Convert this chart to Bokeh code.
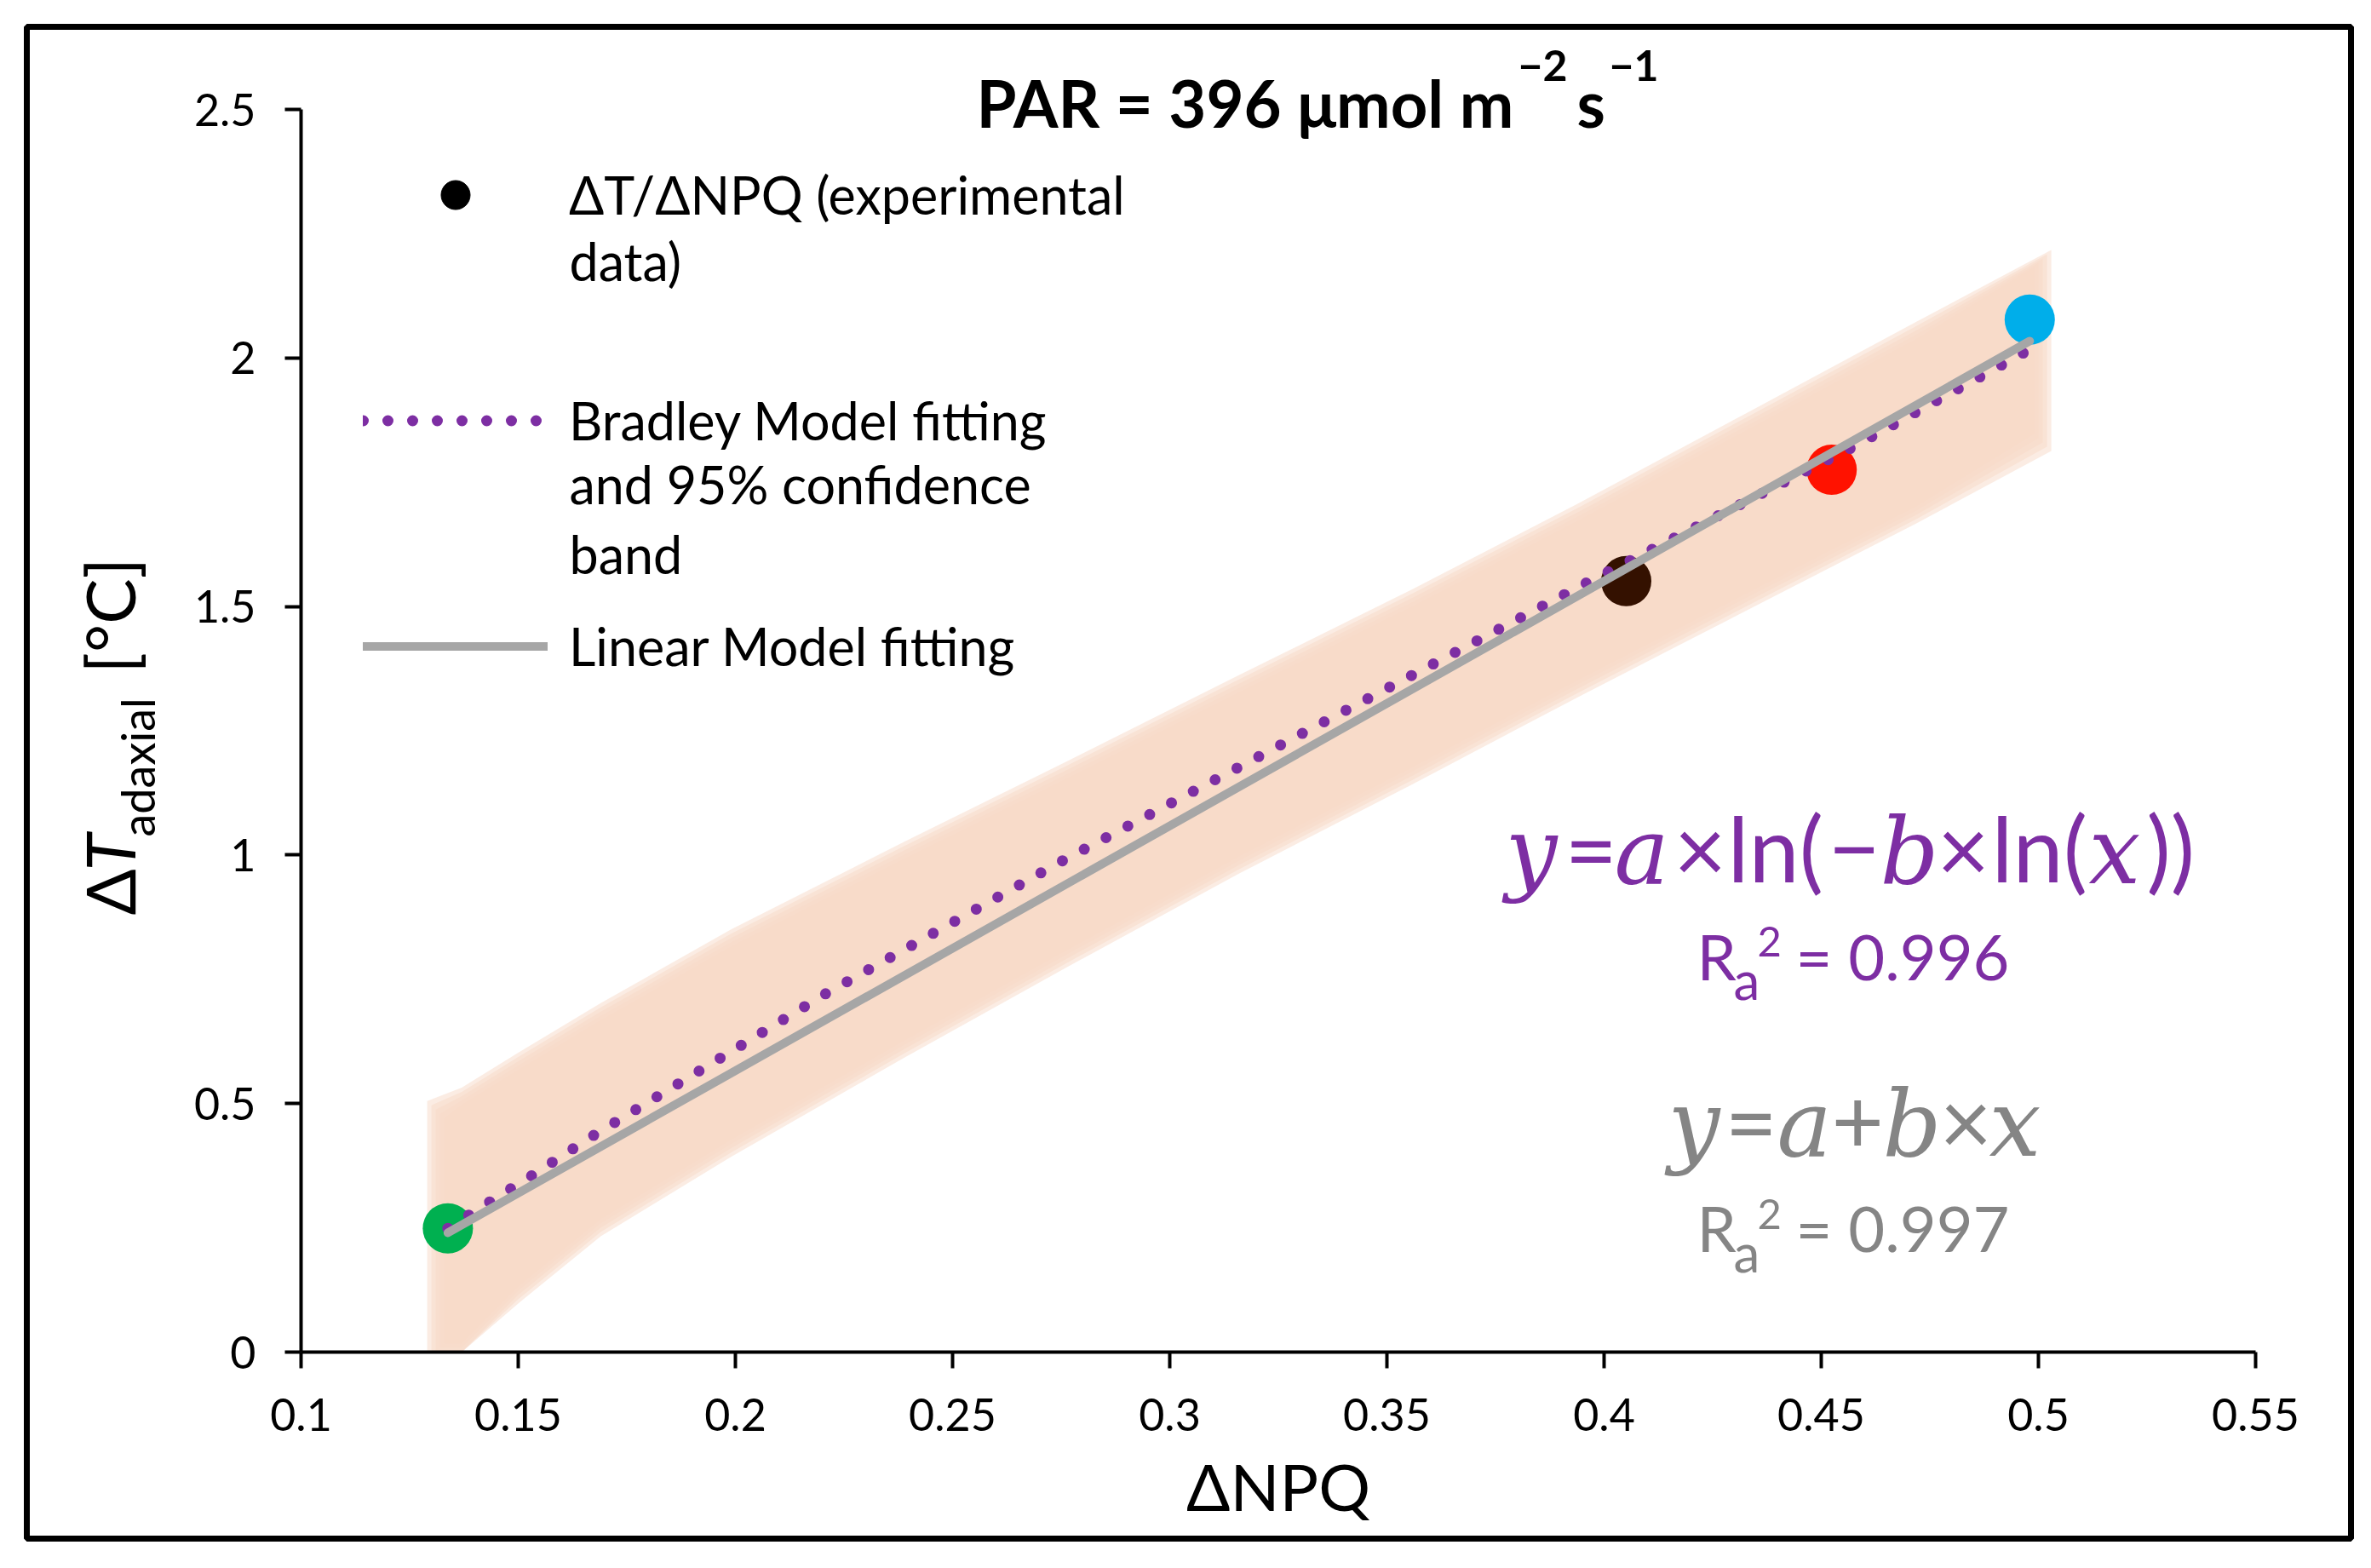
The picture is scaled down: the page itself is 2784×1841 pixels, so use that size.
import math
import numpy as np
from bokeh.plotting import figure
from bokeh.models import Range1d, FixedTicker, Label, Legend, LegendItem, NumeralTickFormatter, BoxAnnotation
from bokeh.embed import file_html
from bokeh.resources import INLINE

# values
npq = [0.1338, 0.4051, 0.4524, 0.498]
delta_t = [0.249, 1.551, 1.775, 2.077]
point_colors = ["#00B050", "#341100", "#FF1200", "#00AEEA"]

linear_x = [0.1338, 0.498]
linear_y = [0.240, 2.034]

bradley_x = [0.1338, 0.143, 0.1526, 0.167, 0.2206, 0.275, 0.3459, 0.3969, 0.4578, 0.4776, 0.498]
bradley_y = [0.249, 0.300, 0.352, 0.434, 0.720, 0.987, 1.316, 1.552, 1.823, 1.919, 2.017]

band_x = [0.131, 0.137, 0.150, 0.169, 0.199, 0.239, 0.276, 0.316, 0.356, 0.394, 0.433, 0.472, 0.501]
band_lo = [0.0, 0.0, 0.115, 0.25, 0.41, 0.61, 0.79, 0.98, 1.16, 1.335, 1.51, 1.685, 1.83]
band_hi = [0.488, 0.515, 0.585, 0.685, 0.833, 1.01, 1.17, 1.345, 1.518, 1.69, 1.873, 2.056, 2.20]

x_ticks = [0.1, 0.15, 0.2, 0.25, 0.3, 0.35, 0.4, 0.45, 0.5, 0.55]
x_tick_labels = ["0.1", "0.15", "0.2", "0.25", "0.3", "0.35", "0.4", "0.45", "0.5", "0.55"]
y_ticks = [0, 0.5, 1, 1.5, 2, 2.5]
y_tick_labels = ["0", "0.5", "1", "1.5", "2", "2.5"]

PURPLE = "#7D2EA3"
GREY_LINE = "#A6A6A6"
GREY_TEXT = "#858585"
SANS = "Lato, 'Open Sans', sans-serif"
SERIF = "'DejaVu Serif', 'Liberation Serif', serif"

W, H = 2768, 1825
OX, OY = 0, 0   # where the canvas lands on the page


# page pixel -> data (axes: x 0.1..0.55 on 353..2648, y 0..2.5 on 1587..128)
def to_x(px):
    return 0.1 + (px - 353) / 5100.0


def to_y(py):
    return (1587 - py) / 583.6


p = figure(width=W, height=H, x_range=Range1d(to_x(OX), to_x(OX + W)),
           y_range=Range1d(to_y(OY + H), to_y(OY)),
           output_backend="svg", toolbar_location=None,
           min_border_left=0, min_border_right=0, min_border_top=0, min_border_bottom=0)
p.title.visible = False
p.outline_line_color = None
p.grid.visible = False
p.background_fill_color = "white"
p.border_fill_color = "white"

p.xaxis.fixed_location = 0
p.yaxis.fixed_location = 0.1
p.xaxis.bounds = (0.1, 0.55)
p.yaxis.bounds = (0, 2.5)

for ax, ticks, labels in ((p.xaxis, x_ticks, x_tick_labels), (p.yaxis, y_ticks, y_tick_labels)):
    ax.ticker = FixedTicker(ticks=ticks)
    ax.formatter = NumeralTickFormatter(format="0.[00]")
    ax.major_label_overrides = {t: l for t, l in zip(ticks, labels)}
    ax.axis_line_width = 4
    ax.axis_line_color = "black"
    ax.major_tick_line_width = 4
    ax.major_tick_line_color = "black"
    ax.major_tick_out = 19
    ax.major_tick_in = 0
    ax.minor_tick_out = 0
    ax.minor_tick_in = 0
    ax.major_label_text_font = SANS
    ax.major_label_text_font_size = "52px"
    ax.major_label_text_color = "black"

p.xaxis.major_label_standoff = 35
p.yaxis.major_label_standoff = 34
p.xaxis.axis_label = "ΔNPQ"
p.xaxis.axis_label_text_font = SANS
p.xaxis.axis_label_text_font_size = "76px"
p.xaxis.axis_label_text_font_style = "normal"
p.xaxis.axis_label_text_color = "black"
p.xaxis.axis_label_standoff = 16

# outer frame of the figure
p.add_layout(BoxAnnotation(left=to_x(31), right=to_x(2760), top=to_y(31), bottom=to_y(1806),
                           fill_color=None, line_color="black", line_alpha=1.0, line_width=7))

# confidence band with soft edges
lo = np.array(band_lo)
hi = np.array(band_hi)
for k in (-2, -1, 0, 1, 2):
    s = 5.0 * k / 583.6
    xs = np.array(band_x)
    xs[0] -= 5.0 * k / 5100.0
    xs[-1] += 5.0 * k / 5100.0
    p.varea(x=xs, y1=np.maximum(lo - s, 0), y2=hi + s, fill_color="#F8DAC7", fill_alpha=0.5)

points = p.scatter(npq, delta_t, size=59, fill_color=point_colors, line_color=None)
bradley = p.line(bradley_x, bradley_y, line_color=PURPLE, line_width=13,
                 line_dash="0 29", line_cap="round")
linear = p.line(linear_x, linear_y, line_color=GREY_LINE, line_width=10, line_cap="round")

legend_dot = p.scatter(npq[:1], delta_t[:1], size=34, color="black", visible=False)

legend = Legend(items=[
    LegendItem(label="ΔT/ΔNPQ (experimental", renderers=[legend_dot]),
    LegendItem(label="Bradley Model fitting", renderers=[bradley]),
    LegendItem(label="Linear Model fitting", renderers=[linear]),
], location=(426 - OX, OY + H - 801), glyph_width=217, glyph_height=85, label_standoff=25,
    spacing=180, padding=0, margin=0, border_line_color=None, background_fill_alpha=0,
    label_text_font=SANS, label_text_font_size="61px", label_text_color="black")
p.add_layout(legend)


def add_text(px, base, text, size, color="black", font=SANS, style="normal", angle=0.0):
    # anchor on the middle of the text box; base is the wanted baseline
    mid = 0.387 if font == SANS else 0.346
    if angle:
        x, y = to_x(px - mid * size), to_y(base)
    else:
        x, y = to_x(px), to_y(base - mid * size)
    p.add_layout(Label(x=x, y=y, text=text, text_font=font,
                       text_font_size=f"{size}px", text_font_style=style, text_color=color,
                       text_align="left", text_baseline="middle", angle=angle))


# legend continuation lines
add_text(668, 330, "data)", 61)
add_text(668, 592, "and 95% confidence", 61)
add_text(668, 674, "band", 61)

# title
add_text(1146, 149, "PAR = 396 μmol m", 76, style="bold")
add_text(1782, 96, "−2", 50, style="bold")
add_text(1851, 149, "s", 76, style="bold")
add_text(1889, 96, "−1", 50, style="bold")

# y axis label (rotated pieces)
rot = math.pi / 2
add_text(158, 1074, "Δ", 80, angle=rot)
add_text(158, 1022, "T", 80, style="italic", angle=rot)
add_text(182, 982, "adaxial", 54, angle=rot)
add_text(158, 790, "[°C]", 80, angle=rot)

# Bradley equation
for px, txt, italic in [(1767, "y", True), (1837, "=", False), (1895, "a", True),
                        (1965, "×", False), (2028, "ln(", False), (2146, "−", False),
                        (2207, "b", True), (2274, "×", False), (2338, "ln(", False),
                        (2452, "x", True), (2520, "))", False)]:
    if italic:
        add_text(px, 1036, txt, 108, PURPLE, SERIF, "italic")
    else:
        add_text(px, 1036, txt, 106, PURPLE)
add_text(1992, 1151, "R", 74, PURPLE)
add_text(2035, 1173, "a", 62, PURPLE)
add_text(2063, 1124, "2", 49, PURPLE)
add_text(2108, 1151, "= 0.996", 74, PURPLE)

# linear equation
for px, txt, italic in [(1958, "y", True), (2025, "=", False), (2086, "a", True),
                        (2150, "+", False), (2210, "b", True), (2277, "×", False),
                        (2335, "x", True)]:
    if italic:
        add_text(px, 1356, txt, 108, GREY_TEXT, SERIF, "italic")
    else:
        add_text(px, 1356, txt, 106, GREY_TEXT)
add_text(1992, 1470, "R", 74, GREY_TEXT)
add_text(2035, 1493, "a", 62, GREY_TEXT)
add_text(2063, 1444, "2", 49, GREY_TEXT)
add_text(2108, 1470, "= 0.997", 74, GREY_TEXT)

open("out.html", "w").write(file_html(p, INLINE))
